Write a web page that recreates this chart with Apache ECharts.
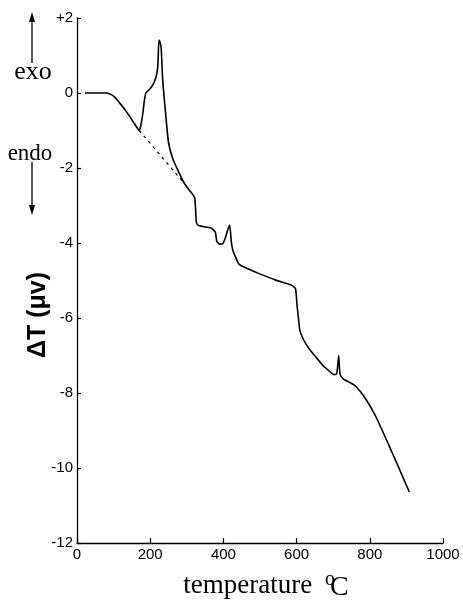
<!DOCTYPE html>
<html>
<head>
<meta charset="utf-8">
<script src="https://cdn.jsdelivr.net/npm/echarts@6/dist/echarts.min.js"></script>
<style>
html,body{margin:0;padding:0;background:#fff;}
#chart{width:463px;height:602px;}
</style>
</head>
<body>
<div id="chart"></div>
<script>
// temperature (°C)
var temps = [
  22, 50, 80, 95, 105, 116, 130, 143, 153, 161,
  166, 170, 174, 179, 184, 188, 195, 202, 209, 214,
  218, 221, 224, 227, 230, 234, 242, 250, 262, 282,
  294, 306, 318, 322, 324, 326, 330, 338, 366, 378,
  382, 390, 398, 404, 410, 417, 422, 426, 432, 443,
  470, 496, 543, 587, 597, 601, 605, 609, 620, 636,
  655, 671, 690, 702, 709, 712, 715, 717, 719, 728,
  745, 759, 785, 816, 857, 908
];
// ΔT (µV)
var deltaT = [
  0, 0, 0, -0.05, -0.13, -0.26, -0.43, -0.61, -0.76, -0.88,
  -0.95, -1.0, -0.88, -0.61, -0.21, 0, 0.07, 0.14, 0.25, 0.37,
  0.51, 0.75, 1.41, 1.35, 1.2, 0.37, -0.53, -1.32, -1.76, -2.19,
  -2.42, -2.58, -2.73, -2.82, -3.1, -3.44, -3.52, -3.55, -3.6, -3.71,
  -3.96, -4.03, -4.02, -3.9, -3.71, -3.52, -4.0, -4.2, -4.35, -4.57,
  -4.7, -4.81, -4.99, -5.13, -5.22, -5.64, -6.0, -6.33, -6.6, -6.84,
  -7.07, -7.26, -7.42, -7.51, -7.5, -7.3, -7.0, -7.3, -7.51, -7.63,
  -7.72, -7.8, -8.1, -8.62, -9.5, -10.64
];
// dashed baseline under the first exotherm
var baseTemps = [170, 294];
var baseDeltaT = [-1.0, -2.42];

var xTicks = [0, 200, 400, 600, 800, 1000];
var yTicks = [-12, -10, -8, -6, -4, -2, 0, 2];

function zip(a, b) { return a.map(function (v, i) { return [v, b[i]]; }); }

var chart = echarts.init(document.getElementById('chart'), null, {renderer: 'canvas'});
var sans = '"Liberation Sans", Arial, sans-serif';
var serif = '"Liberation Serif", "Times New Roman", serif';

chart.setOption({
  animation: false,
  backgroundColor: '#fff',
  grid: {left: 77, right: 20, top: 18, bottom: 59, containLabel: false, outerBoundsMode: 'none'},
  xAxis: {
    type: 'value',
    min: xTicks[0], max: xTicks[xTicks.length - 1], interval: 200,
    splitLine: {show: false},
    axisLine: {show: true, onZero: false, lineStyle: {color: '#000', width: 1.3}},
    axisTick: {show: true, inside: true, length: 5, lineStyle: {color: '#000', width: 1.2}},
    axisLabel: {color: '#000', fontSize: 15, fontFamily: sans, margin: 4,
      formatter: function (v) { return String(v); }},
    name: 'temperature {o|o}{c|C}',
    nameLocation: 'middle',
    nameGap: 27,
    nameTextStyle: {
      color: '#000', fontSize: 27, fontFamily: serif, padding: [0, 0, 0, 12],
      rich: {
        o: {fontSize: 20, fontFamily: serif, color: '#000', verticalAlign: 'top', lineHeight: 32, padding: [0, 0, 0, 6]},
        c: {fontSize: 28, fontFamily: serif, color: '#000', verticalAlign: 'bottom', lineHeight: 32, padding: [0, 0, 0, -5]}
      }
    }
  },
  yAxis: {
    type: 'value',
    min: yTicks[0], max: yTicks[yTicks.length - 1], interval: 2,
    splitLine: {show: false},
    axisLine: {show: true, onZero: false, lineStyle: {color: '#000', width: 1.3}},
    axisTick: {show: true, inside: true, length: 4, lineStyle: {color: '#000', width: 1.2}},
    axisLabel: {
      color: '#000', fontSize: 15, fontFamily: sans, margin: 4,
      formatter: function (v) { return v > 0 ? '+' + v : String(v); }
    }
  },
  series: [
    {
      type: 'line',
      data: zip(temps, deltaT),
      showSymbol: false,
      smooth: 0.2,
      lineStyle: {color: '#000', width: 1.6},
      z: 3
    },
    {
      type: 'line',
      data: zip(baseTemps, baseDeltaT),
      showSymbol: false,
      lineStyle: {color: '#000', width: 1.2, type: [3, 4]},
      z: 2
    }
  ],
  graphic: [
    {type: 'text', x: 38, y: 315, rotation: Math.PI / 2,
     style: {text: 'ΔT (μv)', font: 'bold 25px ' + sans, fill: '#000', align: 'center', verticalAlign: 'middle'}},
    {type: 'text', x: 33, y: 72,
     style: {text: 'exo', font: '26px ' + serif, fill: '#000', align: 'center', verticalAlign: 'middle'}},
    {type: 'text', x: 30, y: 154,
     style: {text: 'endo', font: '23px ' + serif, fill: '#000', align: 'center', verticalAlign: 'middle'}},
    {type: 'line', shape: {x1: 32, y1: 20, x2: 32, y2: 63}, style: {stroke: '#000', lineWidth: 1.3}},
    {type: 'polygon', shape: {points: [[32, 12], [29, 22], [35, 22]]}, style: {fill: '#000'}},
    {type: 'line', shape: {x1: 32, y1: 162, x2: 32, y2: 207}, style: {stroke: '#000', lineWidth: 1.3}},
    {type: 'polygon', shape: {points: [[32, 215], [29, 205], [35, 205]]}, style: {fill: '#000'}}
  ]
});
</script>
</body>
</html>
